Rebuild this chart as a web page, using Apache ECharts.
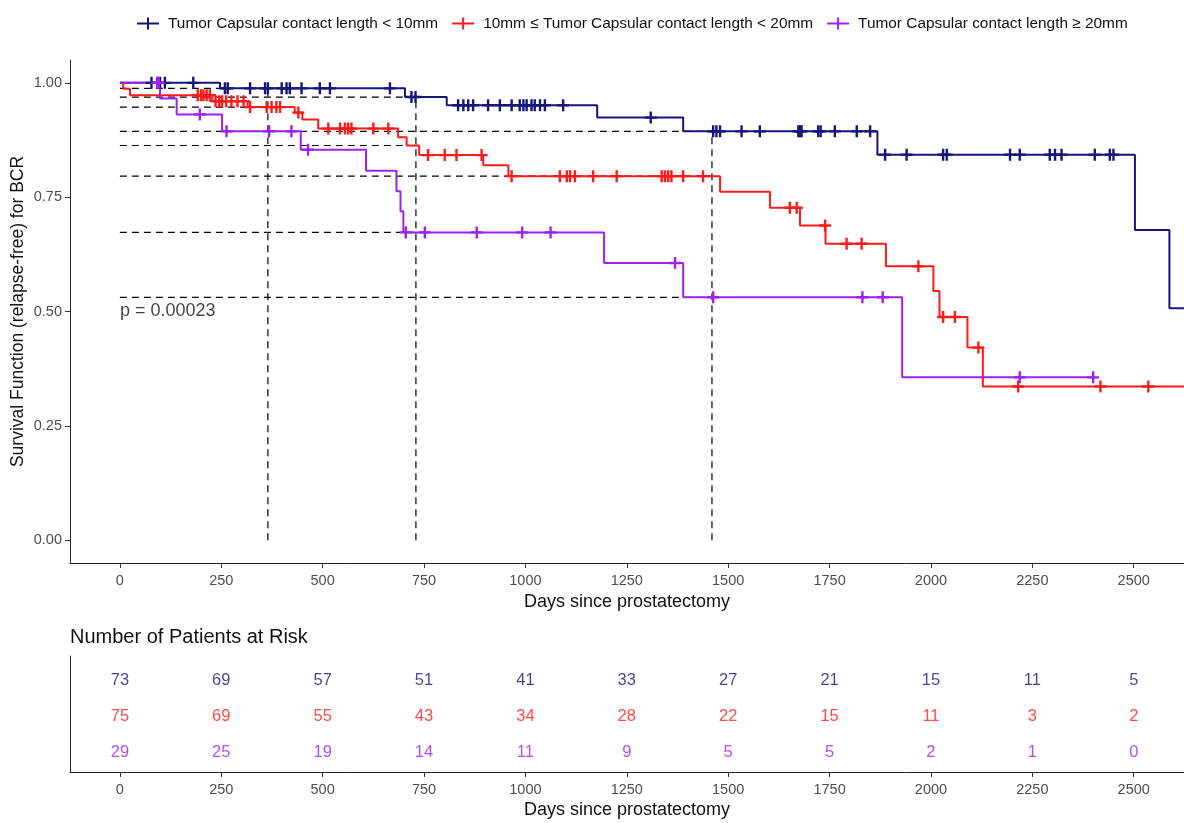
<!DOCTYPE html>
<html>
<head>
<meta charset="utf-8">
<script src="https://cdn.jsdelivr.net/npm/echarts@6/dist/echarts.min.js"></script>
<style>
html,body{margin:0;padding:0;background:#fff;}
#chart{width:1184px;height:823px;}
</style>
</head>
<body>
<div id="chart"></div>
<script>
// ---------- DATA ----------
var groupNames = ['Tumor Capsular contact length < 10mm', '10mm \u2264 Tumor Capsular contact length < 20mm', 'Tumor Capsular contact length \u2265 20mm'];
var groupColors = ['#15157c', '#ff1a1a', '#a020f0'];

// Kaplan-Meier step points (time in days, survival after the drop)
var blueTimes = [0, 247, 703, 806, 1177, 1389, 1868, 2503, 2588];
var blueSurv  = [1.0, 0.988, 0.969, 0.951, 0.924, 0.894, 0.843, 0.678, 0.507];
var blueEnd = 2624;
var blueCensor = [78, 99, 111, 181, 259, 266, 321, 358, 365, 399, 411, 419, 448, 493, 518, 666, 719, 729, 834, 847, 859, 871, 908, 937, 966, 986, 995, 1003, 1015, 1023, 1036, 1048, 1093, 1309, 1463, 1471, 1480, 1533, 1578, 1673, 1677, 1681, 1722, 1728, 1763, 1817, 1850, 1887, 1940, 2030, 2039, 2195, 2219, 2293, 2306, 2322, 2404, 2441, 2450];

var redTimes = [0, 8, 25, 228, 315, 431, 450, 489, 686, 707, 738, 896, 958, 1480, 1603, 1677, 1740, 1889, 2006, 2021, 2090, 2128];
var redSurv  = [1.0, 0.987, 0.973, 0.960, 0.947, 0.935, 0.920, 0.900, 0.881, 0.863, 0.842, 0.820, 0.796, 0.762, 0.727, 0.688, 0.648, 0.599, 0.545, 0.488, 0.421, 0.336];
var redEnd = 2624;
var redCensor = [192, 200, 206, 214, 222, 236, 245, 252, 262, 275, 290, 305, 321, 362, 374, 386, 395, 440, 514, 543, 555, 563, 571, 625, 662, 760, 801, 830, 892, 966, 1085, 1102, 1110, 1122, 1167, 1225, 1336, 1344, 1352, 1360, 1389, 1438, 1652, 1669, 1739, 1792, 1829, 1969, 2030, 2059, 2117, 2215, 2418, 2536];

var purpleTimes = [0, 99, 140, 252, 446, 607, 682, 692, 699, 1194, 1389, 1929];
var purpleSurv  = [1.0, 0.966, 0.931, 0.894, 0.854, 0.808, 0.763, 0.719, 0.673, 0.606, 0.531, 0.356];
var purpleEnd = 2405;
var purpleCensor = [92, 96, 197, 263, 368, 423, 464, 705, 752, 880, 992, 1062, 1369, 1463, 1831, 1881, 2219, 2400];

var landmarkDays = [365, 730, 1460];
var xTicks = [0, 250, 500, 750, 1000, 1250, 1500, 1750, 2000, 2250, 2500];
var yTicks = [0, 0.25, 0.5, 0.75, 1.0];
var pValueText = 'p = 0.00023';

// Number at risk (at xTicks)
var riskBlue   = [73, 69, 57, 51, 41, 33, 27, 21, 15, 11, 5];
var riskRed    = [75, 69, 55, 43, 34, 28, 22, 15, 11, 3, 2];
var riskPurple = [29, 25, 19, 14, 11, 9, 5, 5, 2, 1, 0];

// ---------- BUILD ----------
var groups = [
  {times: blueTimes, surv: blueSurv, end: blueEnd, censor: blueCensor, risk: riskBlue},
  {times: redTimes, surv: redSurv, end: redEnd, censor: redCensor, risk: riskRed},
  {times: purpleTimes, surv: purpleSurv, end: purpleEnd, censor: purpleCensor, risk: riskPurple}
];
function survAt(g, t) {
  var v = g.surv[0];
  for (var i = 0; i < g.times.length; i++) { if (g.times[i] <= t) v = g.surv[i]; }
  return v;
}
function stepData(g) {
  var d = [];
  for (var i = 0; i < g.times.length; i++) d.push([g.times[i], g.surv[i]]);
  d.push([g.end, g.surv[g.surv.length - 1]]);
  return d;
}

var XMIN = -123, XMAX = 2624;
var font = 'Liberation Sans, Arial, sans-serif';
var crossPath = 'path://M4,0h2v10h-2z M0,4h10v2h-10z';
var legendIcon = 'path://M0,5h22v2h-22z M10,0h2v12h-2z';

// dashed reference segments
var dashData = [];
landmarkDays.forEach(function (t) {
  var maxV = 0;
  groups.forEach(function (g) {
    var v = survAt(g, t);
    if (v > maxV) maxV = v;
    dashData.push([0, v], [t, v], [null, null]);
  });
  dashData.push([t, 0], [t, maxV], [null, null]);
});

var series = [];
series.push({
  type: 'line', xAxisIndex: 0, yAxisIndex: 0, data: dashData, showSymbol: false, silent: true,
  connectNulls: false, z: 1,
  lineStyle: {color: '#000', width: 1.2, type: [7, 5]}
});
groups.forEach(function (g, i) {
  series.push({
    name: groupNames[i], type: 'line', step: 'end', xAxisIndex: 0, yAxisIndex: 0,
    data: stepData(g), showSymbol: false, z: 3,
    lineStyle: {color: groupColors[i], width: 2}, itemStyle: {color: groupColors[i]}
  });
  series.push({
    name: groupNames[i], type: 'scatter', xAxisIndex: 0, yAxisIndex: 0, z: 4,
    symbol: crossPath, symbolSize: 12,
    data: g.censor.map(function (t) { return [t, survAt(g, t)]; }),
    itemStyle: {color: groupColors[i], opacity: 1}
  });
  // risk table row
  series.push({
    type: 'scatter', xAxisIndex: 1, yAxisIndex: 1, symbolSize: 0, silent: true,
    data: g.risk.map(function (n, k) { return [xTicks[k], 3 - i, n]; }),
    label: {show: true, position: 'inside', formatter: function (p) { return p.value[2]; },
            color: groupColors[i], fontSize: 16.5, fontFamily: font}
  });
});
series.push({
  type: 'scatter', xAxisIndex: 0, yAxisIndex: 0, symbolSize: 0, silent: true,
  data: [[0, 0.5]],
  label: {show: true, position: 'right', distance: 0, formatter: pValueText, color: '#111', fontSize: 18, fontFamily: font}
});

function xAxisDef(idx) {
  return {
    type: 'value', gridIndex: idx, min: XMIN, max: XMAX,
    axisLine: {show: true, onZero: false, lineStyle: {color: '#222', width: 1}},
    axisTick: {show: true, length: 5, lineStyle: {color: '#333'}, customValues: xTicks},
    axisLabel: {customValues: xTicks, fontSize: 14.5, color: '#4d4d4d', margin: 10, fontFamily: font,
                formatter: function (v) { return String(v); }},
    splitLine: {show: false},
    name: 'Days since prostatectomy', nameLocation: 'middle', nameGap: 29,
    nameTextStyle: {fontSize: 18, color: '#111', fontFamily: font}
  };
}

var option = {
  animation: false,
  backgroundColor: '#ffffff',
  textStyle: {fontFamily: font},
  legend: {
    top: 11, left: 132, itemWidth: 22, itemHeight: 12, itemGap: 14,
    data: groupNames.map(function (n, i) { return {name: n, icon: legendIcon, itemStyle: {color: groupColors[i]}}; }),
    textStyle: {fontSize: 15.4, color: '#111', fontFamily: font, padding: [0, 0, 0, 4]}
  },
  title: {
    text: 'Number of Patients at Risk', left: 65, top: 622,
    textStyle: {fontSize: 20, fontWeight: 'normal', color: '#111', fontFamily: font}
  },
  grid: [
    {left: 70, right: 0, top: 60, height: 503, containLabel: false, outerBoundsMode: 'none'},
    {left: 70, right: 0, top: 656, height: 116, containLabel: false, outerBoundsMode: 'none'}
  ],
  xAxis: [xAxisDef(0), xAxisDef(1)],
  yAxis: [
    {
      type: 'value', gridIndex: 0, min: -0.05, max: 1.05,
      axisLine: {show: true, onZero: false, lineStyle: {color: '#222', width: 1}},
      axisTick: {show: true, length: 5, lineStyle: {color: '#333'}, customValues: yTicks},
      axisLabel: {customValues: yTicks, fontSize: 14.5, color: '#4d4d4d', margin: 8, fontFamily: font,
                  formatter: function (v) { return v.toFixed(2); }},
      splitLine: {show: false},
      name: 'Survival Function (relapse-free) for BCR', nameLocation: 'middle', nameGap: 43,
      nameMoveOverlap: false,
      nameTextStyle: {fontSize: 17.5, color: '#111', fontFamily: font}
    },
    {
      type: 'value', gridIndex: 1, min: 0.44, max: 3.69,
      axisLine: {show: true, onZero: false, lineStyle: {color: '#222', width: 1}},
      axisTick: {show: false}, axisLabel: {show: false}, splitLine: {show: false}
    }
  ],
  series: series
};

var chart = echarts.init(document.getElementById('chart'), null, {renderer: 'canvas'});
chart.setOption(option);
</script>
</body>
</html>
